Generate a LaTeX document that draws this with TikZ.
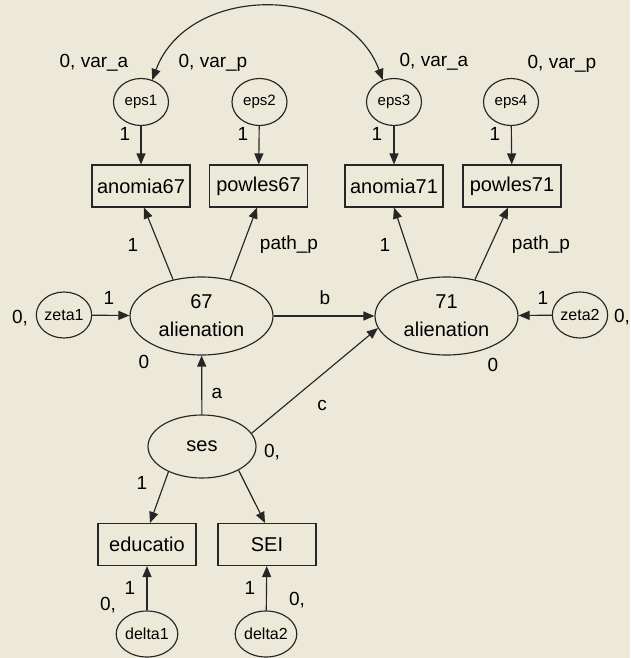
\documentclass[tikz,border=0pt]{standalone}
\usepackage{fontspec}
\setmainfont{Liberation Sans}
\usetikzlibrary{shapes.geometric,arrows.meta}
\definecolor{bgcol}{HTML}{ECE9D8}
\definecolor{lncol}{HTML}{262626}
\tikzset{
  base/.style={draw=lncol, line width=1.15pt, inner sep=0pt, text=black},
  latent/.style={base, ellipse, minimum width=143pt, minimum height=78pt, align=center, font=\fontsize{20pt}{28pt}\selectfont},
  sesell/.style={base, ellipse, minimum width=108pt, minimum height=63pt, font=\fontsize{20pt}{24pt}\selectfont},
  errell/.style={base, ellipse, minimum width=55pt, minimum height=47pt, font=\fontsize{15pt}{18pt}\selectfont},
  errellb/.style={base, ellipse, minimum width=55pt, minimum height=46pt, font=\fontsize{16pt}{18pt}\selectfont},
  obsbox/.style={base, rectangle, minimum width=98pt, minimum height=42pt, font=\fontsize{20pt}{24pt}\selectfont},
  lbl/.style={inner sep=0pt, text=black, font=\fontsize{19pt}{22pt}\selectfont},
  path/.style={draw=lncol, line width=1.15pt, -{Triangle[length=11pt,width=9pt]}},
  bipath/.style={draw=lncol, line width=1.15pt, {Triangle[length=11pt,width=9pt]}-{Triangle[length=11pt,width=9pt]}}
}
\begin{document}
\begin{tikzpicture}[x=1pt,y=-1pt]
\fill[bgcol] (0,0) rectangle (630,658);
\useasboundingbox (0,0) rectangle (630,658);

% error terms of indicators
\node[errell] (eps1) at (141,102) {eps1};
\node[errell] (eps2) at (259.5,102) {eps2};
\node[errell] (eps3) at (394,102) {eps3};
\node[errell] (eps4) at (511,102) {eps4};

% observed indicators
\node[obsbox] (anomia67) at (141,186) {anomia67};
\node[obsbox] (powles67) at (258.5,186) {powles67};
\node[obsbox] (anomia71) at (394,186) {anomia71};
\node[obsbox] (powles71) at (512,186) {powles71};

% latent variables
\node[latent] (al67) at (201.5,316) {67\\alienation};
\node[latent] (al71) at (446.5,316) {71\\alienation};
\node[errellb] (zeta1) at (64,315) {zeta1};
\node[errellb] (zeta2) at (580,315) {zeta2};
\node[sesell] (ses) at (202,446.5) {ses};

% ses indicators
\node[obsbox] (educatio) at (147,544.5) {educatio};
\node[obsbox] (SEI) at (267,544.5) {SEI};
\node[errellb] (delta1) at (147,634) {delta1};
\node[errellb] (delta2) at (266,634) {delta2};

% paths
\draw[path] (eps1) -- (anomia67);
\draw[path] (eps2) -- (powles67);
\draw[path] (eps3) -- (anomia71);
\draw[path] (eps4) -- (powles71);

\draw[path] (al67.128) -- ([xshift=3pt]anomia67.south);
\draw[path] (al67.52) -- ([xshift=-1.5pt]powles67.south);
\draw[path] (al71.128) -- (anomia71.south);
\draw[path] (al71.52) -- ([xshift=-4pt]powles71.south);

\draw[path] (zeta1) -- (al67);
\draw[path] (zeta2) -- (al71);
\draw[path] (al67) -- (al71);
\draw[path] (ses) -- (al67);
\draw[path] (ses.15) -- (al71.190);

\draw[path] (ses.217) -- ([xshift=3pt]educatio.north);
\draw[path] (ses.327) -- ([xshift=-2pt]SEI.north);
\draw[path] (delta1) -- (educatio);
\draw[path] (delta2) -- (SEI);

% covariance
\draw[bipath] (eps1.63) .. controls (188,-17) and (347,-17) .. (eps3.117);

% labels
\node[lbl] (v1) at (94,63) {0, var\_a};
\node[lbl] (v2) at (213,63) {0, var\_p};
\node[lbl] (v3) at (434,62) {0, var\_a};
\node[lbl] (v4) at (562,64) {0, var\_p};

\node[lbl] (l1) at (125,134) {1};
\node[lbl] (l2) at (243,134) {1};
\node[lbl] (l3) at (377,134) {1};
\node[lbl] (l4) at (495,134) {1};

\node[lbl] (l5) at (133,245) {1};
\node[lbl] (pp1) at (289,245) {path\_p};
\node[lbl] (l6) at (385,245) {1};
\node[lbl] (pp2) at (541,245) {path\_p};

\node[lbl] (l7) at (109,298) {1};
\node[lbl] (z1v) at (20,318) {0,};
\node[lbl] (l8) at (543,298) {1};
\node[lbl] (z2v) at (622,317) {0,};

\node[lbl] (lb) at (325,298) {b};
\node[lbl] (m1) at (144,362) {0};
\node[lbl] (m2) at (493,365) {0};
\node[lbl] (la) at (217,393) {a};
\node[lbl] (lc) at (322,405) {c};
\node[lbl] (sv) at (272,452) {0,};
\node[lbl] (l9) at (142,483) {1};

\node[lbl] (l10) at (130,588) {1};
\node[lbl] (d1v) at (108,605) {0,};
\node[lbl] (l11) at (250,588) {1};
\node[lbl] (d2v) at (297,600) {0,};
\end{tikzpicture}
\end{document}
